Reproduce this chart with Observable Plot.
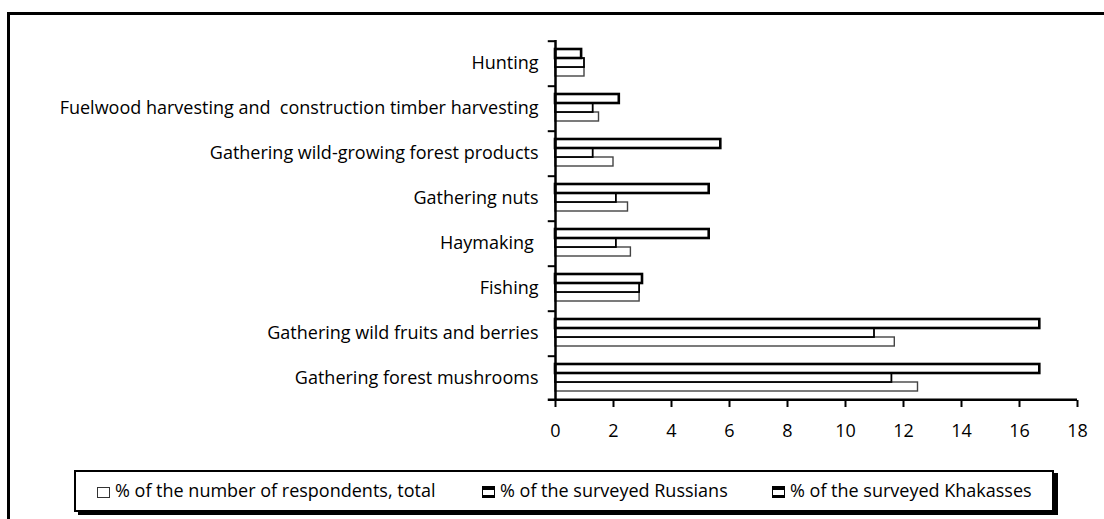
<!DOCTYPE html>
<html>
<head>
<meta charset="utf-8">
<script src="https://cdn.jsdelivr.net/npm/d3@7"></script>
<script src="https://cdn.jsdelivr.net/npm/@observablehq/plot@0.6"></script>
<style>
  html, body { margin: 0; padding: 0; background: #fff; }
  body { width: 1104px; height: 519px; overflow: hidden; position: relative; font-family: "Open Sans", Lato, sans-serif; }
  #frame { position: absolute; left: 7px; top: 12px; width: 1200px; height: 600px; border-left: 3px solid #000; border-top: 3px solid #000; }
  #chart { position: absolute; left: 0; top: 0; }
  #chart svg text { white-space: pre; }
  #legend { position: absolute; left: 74px; top: 470px; width: 976px; height: 38px; border: 2px solid #000; background: #fff; box-shadow: 4px 3px 0 #000; font-size: 18px; color: #000; }
  .item { position: absolute; top: 7px; white-space: nowrap; line-height: 23px; }
  .sw { display: inline-block; width: 11px; height: 9px; background: #fff; vertical-align: -1px; margin-right: 5px; }
</style>
</head>
<body>
<div id="frame"></div>
<div id="chart"></div>
<div id="legend"></div>
<script>
const categories = [
  "Hunting",
  "Fuelwood harvesting and  construction timber harvesting",
  "Gathering wild-growing forest products",
  "Gathering nuts",
  "Haymaking ",
  "Fishing",
  "Gathering wild fruits and berries",
  "Gathering forest mushrooms"
];
const seriesNames = ["Khakasses", "Russians", "Total"];
const legendLabels = [
  "% of the number of respondents, total",
  "% of the surveyed Russians",
  "% of the surveyed Khakasses"
];
const total     = [1.0, 1.5, 2.0, 2.5, 2.6, 2.9, 11.7, 12.5];
const russians  = [1.0, 1.3, 1.3, 2.1, 2.1, 2.9, 11.0, 11.6];
const khakasses = [0.9, 2.2, 5.7, 5.3, 5.3, 3.0, 16.7, 16.7];
const xTicks = [0, 2, 4, 6, 8, 10, 12, 14, 16, 18];

const rows = [];
categories.forEach((c, i) => {
  rows.push({category: c, series: "Khakasses", value: khakasses[i]});
  rows.push({category: c, series: "Russians", value: russians[i]});
  rows.push({category: c, series: "Total", value: total[i]});
});

const styles = {
  Total:     {stroke: "#444", strokeWidth: 1.4},
  Russians:  {stroke: "#000", strokeWidth: 1.8},
  Khakasses: {stroke: "#000", strokeWidth: 2.6}
};

const barsFor = (s) => Plot.barX(rows.filter(d => d.series === s), {
  x: "value", y: "series", fy: "category",
  fill: "white", ...styles[s]
});

const plot = Plot.plot({
  width: 1104,
  height: 460,
  marginLeft: 555,
  marginRight: 27,
  marginTop: 37,
  marginBottom: 58,
  style: {font: "18px 'Open Sans'", color: "#000", background: "transparent", overflow: "visible"},
  x: {domain: [0, 18], axis: null},
  y: {domain: seriesNames, axis: null, paddingInner: 0, paddingOuter: 0.78},
  fy: {domain: categories, padding: 0, axis: null},
  marks: [
    barsFor("Total"),
    barsFor("Russians"),
    barsFor("Khakasses"),
    Plot.ruleX([0], {stroke: "#000", strokeWidth: 2.5}),
    Plot.ruleY(categories, {fy: d => d, y: () => "Khakasses", dy: -12.8, x1: -0.25, x2: 0, stroke: "#000", strokeWidth: 2}),
    Plot.ruleY([categories[categories.length - 1]], {fy: d => d, y: () => "Total", dy: 12.8, x1: -0.25, x2: 18, stroke: "#000", strokeWidth: 2.5}),
    Plot.axisX({ticks: xTicks, tickSize: 7, tickPadding: 17, fontSize: 18, strokeWidth: 2, label: null, tickFormat: d => String(d)}),
    Plot.axisFy({anchor: "left", tickSize: 0, tickPadding: 17, label: null, fontSize: 18})
  ]
});
document.getElementById("chart").appendChild(plot);

// Legend
const legend = document.getElementById("legend");
const lefts = [21, 406, 696];
const swStyles = [
  "border: 1.5px solid #333;",
  "border: 1.5px solid #000; border-top-width: 4px; border-bottom-width: 3px; height: 5px;",
  "border: 1.5px solid #000; border-top-width: 4px; border-bottom-width: 3px; height: 5px;"
];
legendLabels.forEach((t, i) => {
  const el = document.createElement("div");
  el.className = "item";
  el.style.left = lefts[i] + "px";
  el.innerHTML = `<span class="sw" style="${swStyles[i]}"></span>` + t;
  legend.appendChild(el);
});
</script>
</body>
</html>
